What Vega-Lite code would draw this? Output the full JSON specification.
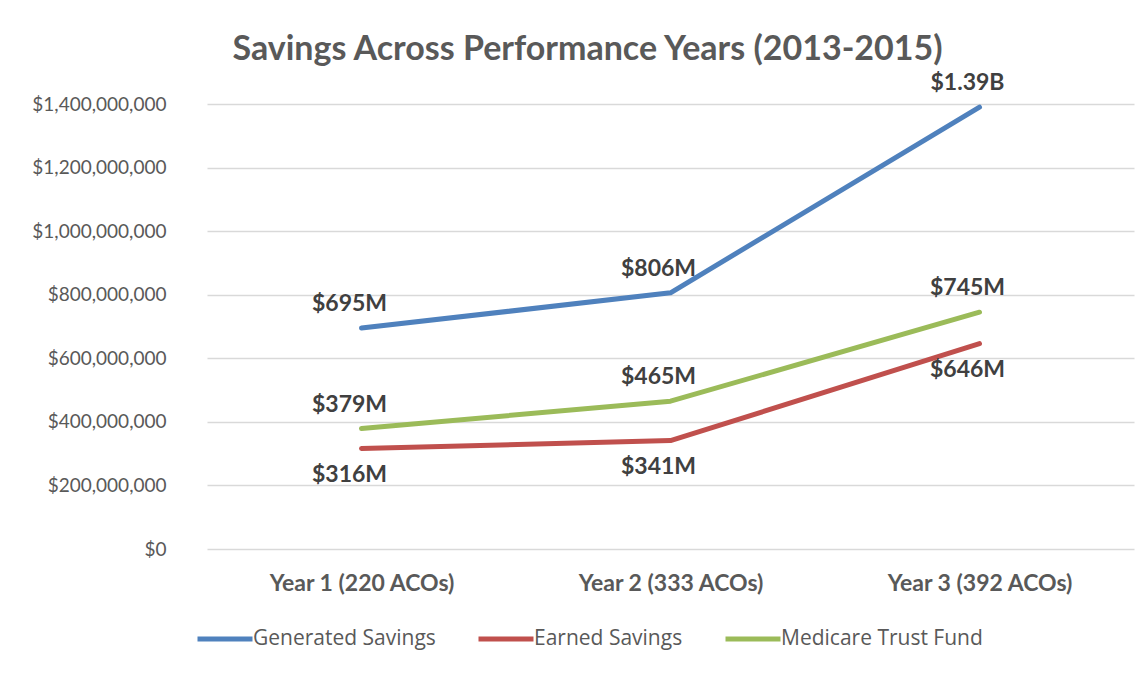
{
  "$schema": "https://vega.github.io/schema/vega-lite/v6.json",
  "autosize": "none",
  "padding": {"left": 207, "top": 104, "right": 13, "bottom": 124},
  "width": 927,
  "height": 445,
  "background": "white",
  "title": {
    "text": "Savings Across Performance Years (2013-2015)",
    "font": "Lato",
    "fontSize": 34,
    "fontWeight": "bold",
    "color": "#595959",
    "anchor": "middle",
    "dx": -83,
    "baseline": "alphabetic",
    "offset": -22
  },
  "config": {
    "view": {"stroke": null},
    "font": "Lato"
  },
  "data": {
    "values": [
      {"year": "Year 1 (220 ACOs)", "series": "Generated Savings", "value": 695000000, "label": "$695M"},
      {"year": "Year 2 (333 ACOs)", "series": "Generated Savings", "value": 806000000, "label": "$806M"},
      {"year": "Year 3 (392 ACOs)", "series": "Generated Savings", "value": 1390000000, "label": "$1.39B"},
      {"year": "Year 1 (220 ACOs)", "series": "Earned Savings", "value": 316000000, "label": "$316M"},
      {"year": "Year 2 (333 ACOs)", "series": "Earned Savings", "value": 341000000, "label": "$341M"},
      {"year": "Year 3 (392 ACOs)", "series": "Earned Savings", "value": 646000000, "label": "$646M"},
      {"year": "Year 1 (220 ACOs)", "series": "Medicare Trust Fund", "value": 379000000, "label": "$379M"},
      {"year": "Year 2 (333 ACOs)", "series": "Medicare Trust Fund", "value": 465000000, "label": "$465M"},
      {"year": "Year 3 (392 ACOs)", "series": "Medicare Trust Fund", "value": 745000000, "label": "$745M"}
    ]
  },
  "encoding": {
    "x": {
      "field": "year",
      "type": "ordinal",
      "sort": null,
      "scale": {"type": "point", "padding": 0.5},
      "axis": {
        "title": null,
        "labelAngle": 0,
        "labelFontSize": 23,
        "labelFontWeight": "bold",
        "labelColor": "#595959",
        "labelPadding": 23,
        "labelLimit": 400,
        "domain": false,
        "ticks": false,
        "grid": false
      }
    },
    "y": {
      "field": "value",
      "type": "quantitative",
      "scale": {"domain": [0, 1400000000]},
      "axis": {
        "title": null,
        "values": [0, 200000000, 400000000, 600000000, 800000000, 1000000000, 1200000000, 1400000000],
        "format": "$,.0f",
        "labelFontSize": 19,
        "labelColor": "#595959",
        "labelPadding": 41,
        "domain": false,
        "ticks": false,
        "gridColor": "#D9D9D9",
        "gridWidth": 1.5
      }
    }
  },
  "layer": [
    {
      "mark": {"type": "line", "strokeWidth": 5, "strokeCap": "round", "strokeJoin": "round"},
      "encoding": {
        "color": {
          "field": "series",
          "type": "nominal",
          "scale": {
            "domain": ["Generated Savings", "Earned Savings", "Medicare Trust Fund"],
            "range": ["#4F81BD", "#C0504D", "#9BBB59"]
          },
          "legend": {
            "title": null,
            "orient": "none",
            "direction": "horizontal",
            "legendX": -12,
            "legendY": 505,
            "symbolType": "stroke",
            "symbolSize": 3025,
            "symbolStrokeWidth": 5,
            "labelFontSize": 21,
            "labelFont": "Open Sans",
            "labelColor": "#595959",
            "labelOffset": -2,
            "columnPadding": 32,
            "labelLimit": 400
          }
        }
      }
    },
    {
      "transform": [{"filter": "datum.series !== 'Earned Savings'"}],
      "mark": {"type": "text", "fontSize": 23, "fontWeight": "bold", "color": "#404040", "dy": -24, "dx": -12},
      "encoding": {"text": {"field": "label"}}
    },
    {
      "transform": [{"filter": "datum.series === 'Earned Savings'"}],
      "mark": {"type": "text", "fontSize": 23, "fontWeight": "bold", "color": "#404040", "dy": 26, "dx": -12},
      "encoding": {"text": {"field": "label"}}
    }
  ]
}
